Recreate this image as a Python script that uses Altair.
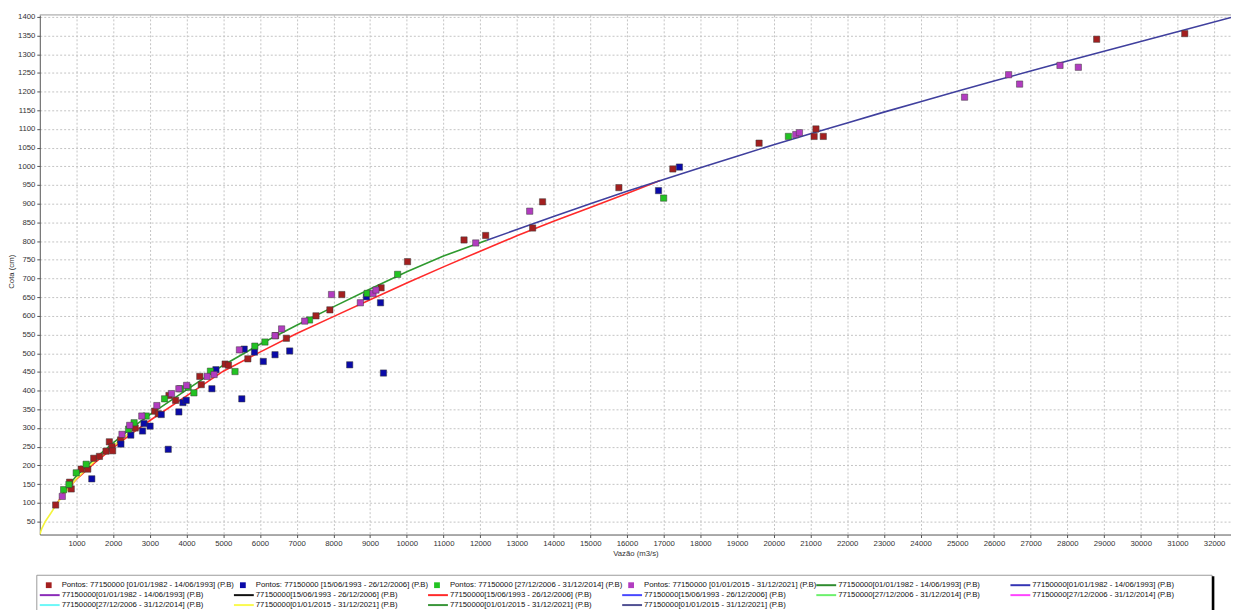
import altair as alt
import pandas as pd

FONT = "Liberation Sans"

# ---------------- measured points (Vazão m3/s, Cota cm) ----------------
p1_q = [433, 812, 857, 1128, 1308, 1470, 1625, 1805, 1895, 1965, 1985, 2200, 2600, 3130, 3230, 3520, 3700,
        4360, 4400, 5050, 5140, 5670, 6425, 6720, 7526, 7905, 8230, 9300, 10020, 11560, 12150, 13430, 13700,
        15780, 17250, 19600, 21100, 21150, 21350, 28800, 31200]
p1_h = [94, 155, 137, 190, 190, 219, 224, 238, 263, 250, 239, 268, 300, 345, 338, 387, 374,
        438, 416, 471, 468, 485, 547, 540, 600, 616, 657, 675, 745, 803, 815, 835, 905,
        943, 993, 1062, 1080, 1100, 1080, 1340, 1355]

p2_q = [1417, 2210, 2480, 2800, 2840, 3005, 3310, 3500, 3790, 3900, 3990, 4690, 4800, 5505, 5570, 5850,
        6090, 6410, 6810, 8445, 8900, 9285, 9365, 16860, 17430]
p2_h = [164, 257, 281, 292, 312, 305, 336, 243, 343, 368, 374, 405, 456, 378, 511, 503,
        478, 496, 506, 469, 651, 635, 447, 935, 998]

p3_q = [650, 795, 993, 1263, 2420, 2570, 2900, 3400, 3835, 4040, 4200, 4650, 5320, 5860, 6135, 7350,
        8920, 9750, 17000, 20400]
p3_h = [135, 149, 180, 203, 297, 314, 332, 378, 405, 409, 394, 452, 451, 519, 530, 589,
        660, 711, 915, 1080]

p4_q = [613, 2240, 2450, 2780, 3190, 3590, 3790, 4000, 4560, 4750, 5440, 6410, 6590, 7220, 7950, 8735,
        9080, 9160, 11880, 13350, 20600, 20700, 25200, 26400, 26700, 27800, 28300]
p4_h = [117, 283, 307, 332, 360, 392, 405, 414, 438, 443, 509, 547, 565, 586, 657, 635,
        660, 669, 795, 880, 1085, 1090, 1185, 1245, 1220, 1270, 1265]

series_names = ["P1", "P2", "P3", "P4"]
series_colors = ["#A31F1F", "#0A0AA8", "#22C322", "#B23CC0"]

# ---------------- rating curves ----------------
yellow_q = [0, 50, 150, 300, 450, 650, 1000, 1500, 2000, 2480]
yellow_h = [15, 30, 50, 72, 95, 122, 165, 212, 252, 290]

red_q = [400, 600, 800, 1000, 1500, 2000, 2500, 3000, 4000, 5000, 6000, 7000, 8000, 9000, 10000,
         11000, 12000, 13000, 14000, 15000, 16000, 16900]
red_h = [88, 118, 142, 163, 207, 247, 285, 320, 386, 452, 503, 553, 598, 643, 688,
         731, 773, 814, 853, 890, 927, 962]

green_q = [550, 800, 1000, 1500, 2000, 2500, 3000, 4000, 5000, 6000, 7000, 8000, 9000, 10000, 11000, 12180]
green_h = [112, 148, 172, 218, 260, 300, 336, 402, 468, 524, 575, 624, 672, 718, 760, 802]

blue_q = [12180, 13000, 14000, 15000, 16000, 17000, 18000, 19000, 20000, 21000, 22000, 23000, 24000,
          25000, 26000, 27000, 28000, 29000, 30000, 31000, 32460]
blue_h = [802, 831, 866, 900, 933, 965, 996, 1027, 1058, 1087, 1116, 1145, 1173,
          1201, 1228, 1255, 1282, 1308, 1334, 1360, 1398]

curve_names = ["green", "red", "blue", "yellow"]
curve_colors = ["#2F9A2F", "#FF2A2A", "#40409E", "#F4F43C"]

# ---------------- legend entries ----------------
legend_labels = [
    "Pontos: 77150000 [01/01/1982 - 14/06/1993] (P.B)",
    "Pontos: 77150000 [15/06/1993 - 26/12/2006] (P.B)",
    "Pontos: 77150000 [27/12/2006 - 31/12/2014] (P.B)",
    "Pontos: 77150000 [01/01/2015 - 31/12/2021] (P.B)",
    "77150000[01/01/1982 - 14/06/1993] (P.B)",
    "77150000[01/01/1982 - 14/06/1993] (P.B)",
    "77150000[01/01/1982 - 14/06/1993] (P.B)",
    "77150000[15/06/1993 - 26/12/2006] (P.B)",
    "77150000[15/06/1993 - 26/12/2006] (P.B)",
    "77150000[15/06/1993 - 26/12/2006] (P.B)",
    "77150000[27/12/2006 - 31/12/2014] (P.B)",
    "77150000[27/12/2006 - 31/12/2014] (P.B)",
    "77150000[27/12/2006 - 31/12/2014] (P.B)",
    "77150000[01/01/2015 - 31/12/2021] (P.B)",
    "77150000[01/01/2015 - 31/12/2021] (P.B)",
    "77150000[01/01/2015 - 31/12/2021] (P.B)",
]
legend_colors = ["#A31F1F", "#0A0AA8", "#22C322", "#B23CC0", "#2E8B2E", "#3434B4",
                 "#8A2BB8", "#111111", "#FF2A2A", "#4848FF", "#6CF06C", "#FF44FF",
                 "#6CF8F8", "#FAFA50", "#3A963A", "#505092"]
legend_kinds = ["square"] * 4 + ["line"] * 12

# ---------------- tables ----------------
pts = pd.concat([
    pd.DataFrame({"Q": q, "h": h, "serie": s})
    for q, h, s in [(p1_q, p1_h, "P1"), (p2_q, p2_h, "P2"), (p3_q, p3_h, "P3"), (p4_q, p4_h, "P4")]
], ignore_index=True)

curves = pd.concat([
    pd.DataFrame({"Q": q, "h": h, "curve": c})
    for q, h, c in [(green_q, green_h, "green"), (red_q, red_h, "red"),
                    (blue_q, blue_h, "blue"), (yellow_q, yellow_h, "yellow")]
], ignore_index=True)

leg = pd.DataFrame({
    "col": [i % 6 for i in range(16)],
    "row": [i // 6 for i in range(16)],
    "label": legend_labels,
    "color": legend_colors,
    "kind": legend_kinds,
})

W, H = 1199, 523
xscale = alt.Scale(domain=[0, 32460], nice=False, zero=False)
yscale = alt.Scale(domain=[15, 1405], nice=False, zero=False)

xaxis = alt.Axis(values=list(range(1000, 32001, 1000)), format="d", title="Vazão (m3/s)",
                 labelFlush=False, labelOverlap=False, grid=True)
yaxis = alt.Axis(values=list(range(50, 1401, 50)), format="d", title="Cota (cm)",
                 labelFlush=False, labelOverlap=False, grid=True,
                 titleX=-24, titleY=258, titleAlign="center", titleAngle=270)

lines = alt.Chart(curves).mark_line(strokeWidth=1.6, clip=True).encode(
    x=alt.X("Q:Q", scale=xscale, axis=xaxis),
    y=alt.Y("h:Q", scale=yscale, axis=yaxis),
    stroke=alt.Stroke("curve:N", scale=alt.Scale(domain=curve_names, range=curve_colors), legend=None),
    order=alt.Order("Q:Q"),
)

points = alt.Chart(pts).mark_square(size=40, opacity=1, stroke="#3a3a3a", strokeWidth=0.5).encode(
    x=alt.X("Q:Q", scale=xscale, axis=xaxis),
    y=alt.Y("h:Q", scale=yscale, axis=yaxis),
    fill=alt.Fill("serie:N", scale=alt.Scale(domain=series_names, range=series_colors), legend=None),
)

main = alt.layer(lines, points)

# ---------------- legend (drawn below the plot) ----------------
one = pd.DataFrame({"a": [0]})
lx = alt.Scale(domain=[0, 6], range=[0, 6 * 195.4])
ly = alt.Scale(domain=[0, 2], range=[574, 594])

frame_top = alt.Chart(one).mark_rule(color="#9a9a9a", strokeWidth=1).encode(
    x=alt.value(0), x2=alt.value(W), y=alt.value(0))
box = alt.Chart(one).mark_rect(fill="white", stroke="#9a9a9a", strokeWidth=1).encode(
    x=alt.value(-3), x2=alt.value(1180), y=alt.value(564), y2=alt.value(640))
box_edge = alt.Chart(one).mark_rule(color="black", strokeWidth=2.5).encode(
    x=alt.value(1181), y=alt.value(565), y2=alt.value(640))

leg_sq = alt.Chart(leg).transform_filter(alt.datum.kind == "square").mark_square(
    size=34, opacity=1, xOffset=9).encode(
    x=alt.X("col:Q", scale=lx, axis=None),
    y=alt.Y("row:Q", scale=ly, axis=None),
    fill=alt.Fill("color:N", scale=None),
)
leg_ln = alt.Chart(leg).transform_filter(alt.datum.kind == "line").mark_rule(
    strokeWidth=2, x2Offset=20).encode(
    x=alt.X("col:Q", scale=lx, axis=None),
    x2=alt.X2("col"),
    y=alt.Y("row:Q", scale=ly, axis=None),
    stroke=alt.Stroke("color:N", scale=None),
)
leg_tx = alt.Chart(leg).mark_text(align="left", baseline="middle", dx=22, font=FONT,
                                  fontSize=7.8, color="#111111").encode(
    x=alt.X("col:Q", scale=lx, axis=None),
    y=alt.Y("row:Q", scale=ly, axis=None),
    text="label:N",
)

legend = alt.layer(frame_top, box, box_edge, leg_sq, leg_ln, leg_tx)

chart = alt.layer(main, legend).resolve_scale(x="independent", y="independent").properties(
    width=W, height=H,
    autosize=alt.AutoSizeParams(type="none"),
    padding={"left": 32, "top": 5, "right": 0, "bottom": 76},
    background="white",
).configure_view(stroke=None).configure_axis(
    labelFont=FONT, titleFont=FONT, labelFontSize=7.8, titleFontSize=7.8,
    labelColor="#333333", titleColor="#333333", titleFontWeight="normal",
    domainColor="#555555", tickColor="#555555", tickSize=3,
    gridColor="#c4c4c4", gridDash=[2, 2], gridWidth=1, labelPadding=2,
).configure_axisX(titlePadding=2)

chart.save("out.html", embed_options={"renderer": "svg", "actions": False})
